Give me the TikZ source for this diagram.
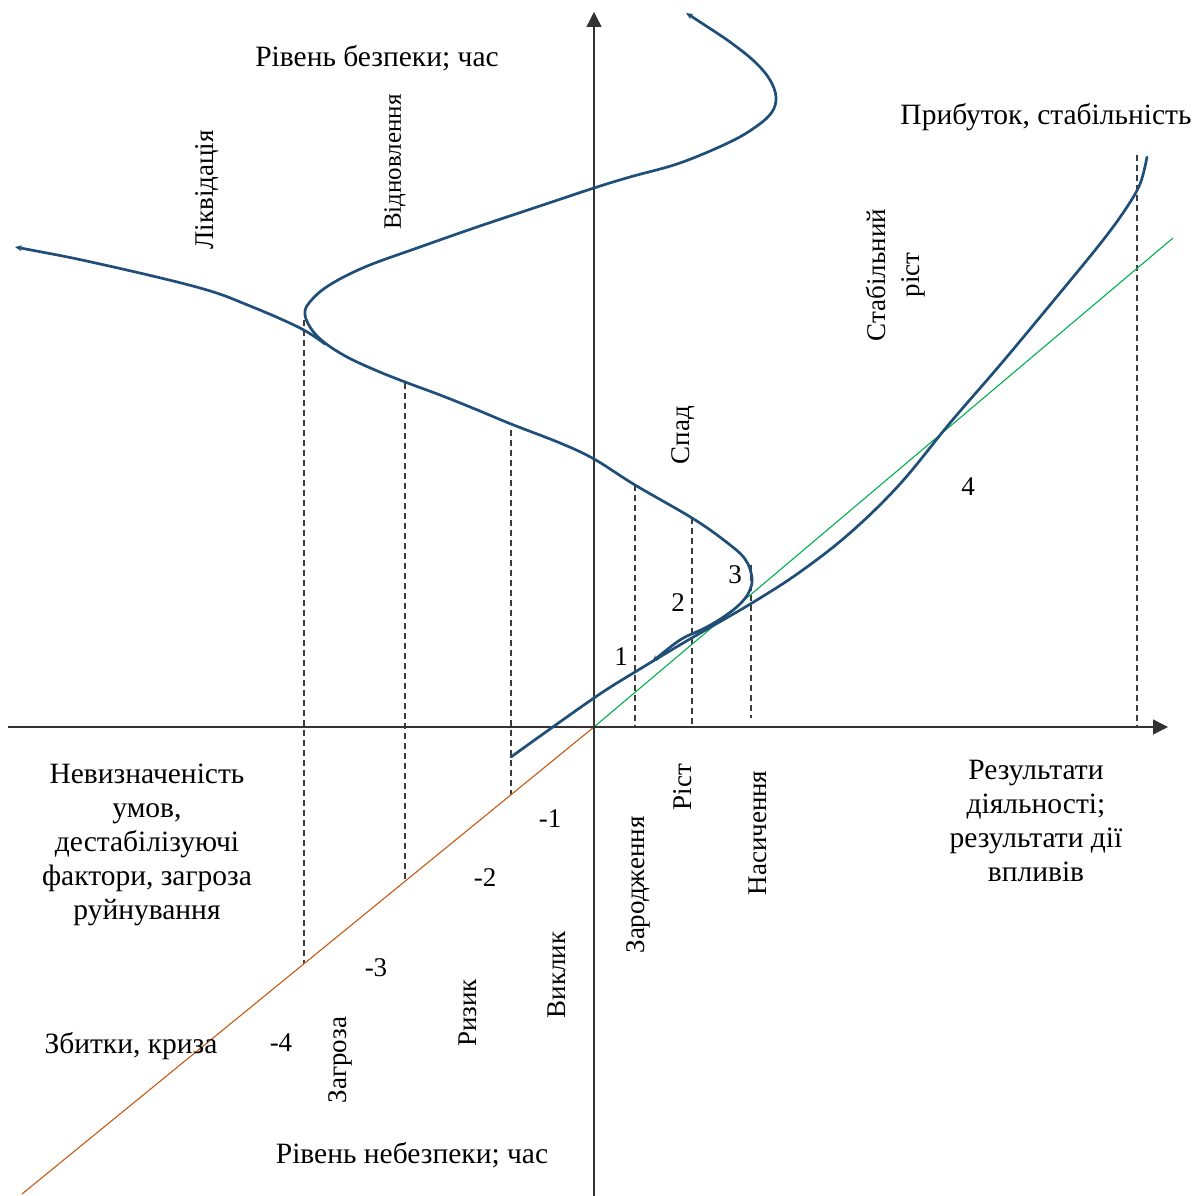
\documentclass[tikz,border=0pt]{standalone}
\usepackage{fontspec}
\setmainfont{Liberation Serif}
\usetikzlibrary{arrows.meta}
\definecolor{curveblue}{RGB}{31,78,121}
\definecolor{lossorange}{RGB}{197,90,17}
\definecolor{gaingreen}{RGB}{0,176,80}
\definecolor{guidegray}{RGB}{60,60,60}
\begin{document}
\begin{tikzpicture}[x=1pt,y=1pt,
  endtip/.tip={Stealth[length=7pt,width=6pt]},
  axis/.style={line width=1.3pt,black!80,-{Triangle[length=15pt,width=15pt]}},
  guide/.style={guidegray,line width=1.2pt,dash pattern=on 6pt off 4pt},
  curve/.style={curveblue,line width=2.7pt,line cap=round,line join=round},
  lbl/.style={inner sep=0pt,font=\fontsize{29.5}{34}\selectfont},
  num/.style={inner sep=0pt,font=\fontsize{27}{34}\selectfont},
  vlbl/.style={num,rotate=90},
  blk/.style={lbl,align=center}]
\useasboundingbox (0,0) rectangle (1200,1196);
\fill[white] (0,0) rectangle (1200,1196);

% origin and axis ends
\coordinate (O) at (594,469);
\coordinate (xs) at (8,469);
\coordinate (xe) at (1168,469);
\coordinate (ys) at (594,0);
\coordinate (ye) at (594,1184);
\coordinate (lo) at (22,2);
\coordinate (hi) at (1173,958);

% guide lines from the curves down to the axis / loss line
\foreach \x/\t/\b in {304/876/232, 405/813/315, 511/766/401, 635/711/469, 692/678/469, 751/631/478, 1137/1041/469}
  \draw[guide] (\x,\t) -- (\x,\b);

% reference lines through the origin
\draw[lossorange,line width=1.1pt] (O) -- (lo);
\draw[gaingreen,line width=1.1pt] (O) -- (hi);

% axes
\draw[axis] (xs) -- (xe);
\draw[axis] (ys) -- (ye);

% safety level curve
\draw[curve,endtip-endtip] plot[smooth,tension=0.6] coordinates {
  (686,1183) (700,1174) (730,1154) (755,1134) (770,1116) (776,1099) (772,1084)
  (757,1070) (730,1054) (680,1033) (630,1019) (594,1008) (540,990) (480,970)
  (420,949) (365,929) (328,910) (309,893) (305,881) (312,866) (325,853)
  (347,839) (375,826) (405,814) (440,801) (475,787) (511,772) (560,753)
  (594,737) (635,711) (692,678) (725,655) (745,637) (752,618) (749,604)
  (740,592) (725,580) (705,568) (680,556) (652,534)};

% liquidation tail
\draw[curve,endtip-] plot[smooth,tension=0.6] coordinates {
  (15,949) (100,932) (200,908) (250,890) (300,868) (325,852)};

% profit / stability curve
\draw[curve] plot[smooth,tension=0.6] coordinates {
  (511,439) (594,498) (640,527) (690,557) (752,593) (800,624) (850,663)
  (900,712) (950,773) (1000,831) (1050,891) (1100,952) (1125,986) (1140,1012) (1147,1039)};

% labels
\node[lbl] (safe) at (377,1138) {Рівень безпеки; час};
\node[vlbl] (liq) at (207,1006) {Ліквідація};
\node[vlbl,font=\fontsize{25}{30}\selectfont] (rec) at (395,1034) {Відновлення};
\node[lbl] (prof) at (1046,1079) {Прибуток, стабільність};
\node[vlbl,align=center] (stab) at (896,921) {Стабільний\\ріст};
\node[vlbl] (fall) at (683,761) {Спад};
\node[num] (n4) at (968,709) {4};
\node[num] (n3) at (735,621) {3};
\node[num] (n2) at (678,593) {2};
\node[num] (n1) at (621,539) {1};
\node[num] (m1) at (550,377) {-1};
\node[num] (m2) at (485,318) {-2};
\node[num] (m3) at (376,228) {-3};
\node[num] (m4) at (281,153) {-4};
\node[blk] (unc) at (147,351) {Невизначеність\\умов,\\дестабілізуючі\\фактори, загроза\\руйнування};
\node[blk] (res) at (1036,375) {Результати\\діяльності;\\результати дії\\впливів};
\node[vlbl] (birth) at (638,311) {Зародження};
\node[vlbl] (grow) at (683,409) {Ріст};
\node[vlbl] (sat) at (758,363) {Насичення};
\node[vlbl] (chal) at (557,221) {Виклик};
\node[vlbl] (risk) at (468,183) {Ризик};
\node[vlbl] (thr) at (340,136) {Загроза};
\node[lbl] (loss) at (131,150) {Збитки, криза};
\node[lbl] (danger) at (412,41) {Рівень небезпеки; час};
\end{tikzpicture}
\end{document}
